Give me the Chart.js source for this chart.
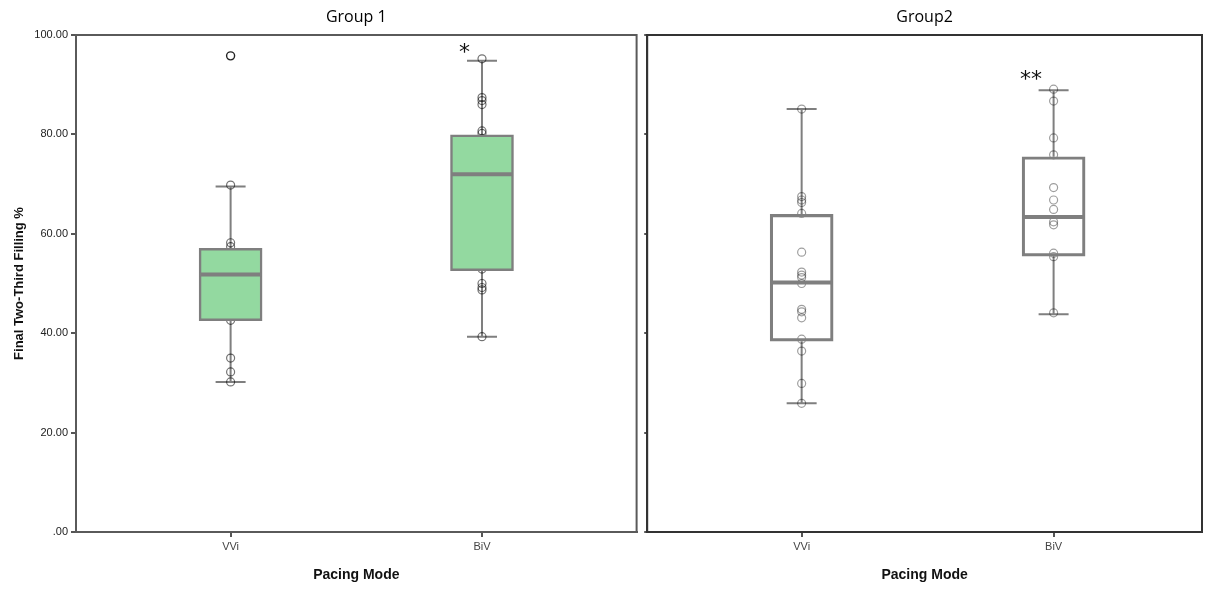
<!DOCTYPE html>
<html>
<head>
<meta charset="utf-8">
<script src="https://cdn.jsdelivr.net/npm/chart.js@4"></script>
<style>
  html,body{margin:0;padding:0;background:#fff;}
  #wrap{position:relative;width:1208px;height:590px;}
  canvas{position:absolute;top:0;}
</style>
</head>
<body>
<div id="wrap">
  <canvas id="c1" width="642" height="590" style="left:0;width:642px;height:590px"></canvas>
  <canvas id="c2" width="566" height="590" style="left:642px;width:566px;height:590px"></canvas>
</div>
<script>
// Categories and tick labels
const categories = ["VVi", "BiV"];
const yTicks = [0, 20, 40, 60, 80, 100];

const g1VVi = [69.8, 58.2, 57.4, 56.3, 52.7, 52.1, 51.7, 48.1, 42.6, 35.0, 32.2, 30.2];
const g1VViOutlier = [95.8];
const g1BiV = [95.2, 87.4, 86.8, 86.0, 80.7, 80.2, 79.2, 72.4, 68.3, 54.7, 52.9, 50.0, 49.2, 48.7, 39.3];
// Group 1 box statistics (VVi, BiV)
const g1Min = [30.2, 39.3];
const g1Q1  = [42.5, 52.6];
const g1Med = [51.8, 72.0];
const g1Q3  = [57.1, 79.9];
const g1Max = [69.5, 94.8];

// Group 2: individual observations
const g2VVi = [85.1, 67.5, 66.8, 66.3, 64.1, 56.3, 52.3, 51.7, 51.2, 50.0, 44.8, 44.3, 43.1, 38.8, 36.4, 29.9, 25.9];
const g2BiV = [89.1, 86.7, 79.3, 75.9, 69.3, 66.8, 64.9, 62.4, 61.8, 56.1, 55.4, 44.1];
// Group 2 box statistics
const g2Min = [25.9, 43.8];
const g2Q1  = [38.4, 55.5];
const g2Med = [50.2, 63.4];
const g2Q3  = [63.9, 75.5];
const g2Max = [85.1, 88.9];

// significance marks (x in category units, y in %)
const g1Stars = [{x: 0.93, y: 96.3, text: "*"}];
const g2Stars = [{x: 0.91, y: 90.8, text: "**"}];

const GREY = "#7f7f7f";

// ---------- box plot helper plugin: whiskers, medians, frame, stars ----------
const boxPlugin = {
  id: "boxplot",
  beforeDatasetsDraw(chart, args, o){
    const {x, y} = chart.scales, ctx = chart.ctx;
    ctx.save();
    ctx.strokeStyle = GREY; ctx.lineWidth = 2;
    o.min.forEach((mn, i) => {
      const px = x.getPixelForValue(i);
      ctx.beginPath();
      ctx.moveTo(px, y.getPixelForValue(o.max[i])); ctx.lineTo(px, y.getPixelForValue(o.q3[i]));
      ctx.moveTo(px, y.getPixelForValue(o.q1[i]));  ctx.lineTo(px, y.getPixelForValue(mn));
      // caps
      ctx.moveTo(px - 15, y.getPixelForValue(o.max[i])); ctx.lineTo(px + 15, y.getPixelForValue(o.max[i]));
      ctx.moveTo(px - 15, y.getPixelForValue(mn));       ctx.lineTo(px + 15, y.getPixelForValue(mn));
      ctx.stroke();
    });
    ctx.restore();
  },
  afterDatasetDraw(chart, args, o){
    if(args.index !== 0) return;
    const {x, y} = chart.scales, ctx = chart.ctx;
    ctx.save();
    ctx.strokeStyle = GREY; ctx.lineWidth = 4;
    o.med.forEach((m, i) => {
      const px = x.getPixelForValue(i), py = y.getPixelForValue(m);
      ctx.beginPath(); ctx.moveTo(px - 31, py); ctx.lineTo(px + 31, py); ctx.stroke();
    });
    ctx.restore();
  },
  afterDraw(chart, args, o){
    const {x, y} = chart.scales, ctx = chart.ctx, a = chart.chartArea;
    ctx.save();
    ctx.strokeStyle = o.frame; ctx.lineWidth = 2;
    ctx.strokeRect(a.left, a.top, a.right - a.left, a.bottom - a.top);
    ctx.fillStyle = "#111"; ctx.font = "22px 'DejaVu Sans'";
    ctx.textAlign = "center"; ctx.textBaseline = "middle";
    o.stars.forEach(s => ctx.fillText(s.text, x.getPixelForValue(s.x), y.getPixelForValue(s.y)));
    ctx.restore();
  }
};

function makePanel(id, cfg){
  const xScale = {
    type: "linear", min: cfg.xMin, max: cfg.xMax, offset: false,
    afterBuildTicks: s => { s.ticks = categories.map((c, i) => ({value: i})); },
    ticks: {callback: (v, i) => categories[i], color: "#444", padding: 3,
            font: {family: "'Liberation Sans', Arial", size: 11}, autoSkip: false, maxRotation: 0},
    grid: {offset: false, drawOnChartArea: false, drawTicks: true, tickLength: 5, color: "#555", lineWidth: 2},
    border: {display: true, color: cfg.frame, width: 2},
    title: {display: true, text: "Pacing Mode", color: "#111", padding: {top: 4, bottom: 6},
            font: {family: "'Liberation Sans', Arial", size: 14, weight: "bold"}},
    afterFit: s => { s.height = 58; }
  };
  const yScale = {
    min: 0, max: 100,
    afterBuildTicks: s => { s.ticks = yTicks.map(v => ({value: v})); },
    ticks: {display: cfg.yLabels, color: "#222", padding: 3,
            font: {family: "'Liberation Sans', Arial", size: 11},
            callback: v => v === 0 ? ".00" : v.toFixed(2)},
    grid: {drawOnChartArea: false, drawTicks: true, tickLength: cfg.yLabels ? 5 : 3, color: "#555", lineWidth: 2},
    border: {display: true, color: cfg.frame, width: 2},
    title: {display: cfg.yLabels, text: "Final Two-Third Filling %", color: "#111", padding: {top: 12, bottom: 0},
            font: {family: "'Liberation Sans', Arial", size: 13, weight: "bold"}},
    afterFit: s => { s.width = cfg.yWidth; }
  };
  const pts = cfg.points.map(p => ({
    type: "scatter",
    data: p.values.map(v => ({x: p.cat, y: v})),
    pointStyle: "circle", pointRadius: 4, pointBorderWidth: p.bw || 1.2,
    pointBackgroundColor: "rgba(0,0,0,0)", pointBorderColor: p.color
  }));
  return new Chart(document.getElementById(id), {
    type: "bar",
    data: {
      datasets: [{
        type: "bar",
        data: categories.map((c, i) => ({x: i, y: [cfg.q1[i], cfg.q3[i]]})),
        backgroundColor: cfg.fill, borderColor: GREY, borderWidth: 2.5,
        borderSkipped: false, barThickness: 63
      }, ...pts]
    },
    options: {
      responsive: false, animation: false, events: [],
      layout: {padding: {left: 0, right: cfg.padRight, top: 0, bottom: 0}},
      scales: {x: xScale, y: yScale},
      plugins: {
        legend: {display: false}, tooltip: {enabled: false},
        title: {display: true, text: cfg.title, fullSize: false, color: "#000",
                padding: {top: 8, bottom: 7.8}, font: {family: "'Open Sans'", size: 16, weight: "normal"}},
        boxplot: {min: cfg.min, max: cfg.max, q1: cfg.q1, q3: cfg.q3, med: cfg.med,
                  frame: cfg.frame, stars: cfg.stars}
      }
    },
    plugins: [boxPlugin]
  });
}

makePanel("c1", {
  title: "Group 1", xMin: -0.615, xMax: 1.615, yWidth: 76, padRight: 4, yLabels: true,
  fill: "#93d9a0", frame: "#5a5a5a",
  min: g1Min, q1: g1Q1, med: g1Med, q3: g1Q3, max: g1Max, stars: g1Stars,
  points: [
    {cat: 0, values: g1VVi, color: "rgba(0,0,0,0.55)"},
    {cat: 0, values: g1VViOutlier, color: "#222", bw: 1.4},
    {cat: 1, values: g1BiV, color: "rgba(0,0,0,0.55)"}
  ]
});

makePanel("c2", {
  title: "Group2", xMin: -0.613, xMax: 1.589, yWidth: 3, padRight: 6, yLabels: false,
  fill: "rgba(255,255,255,0)", frame: "#333",
  min: g2Min, q1: g2Q1, med: g2Med, q3: g2Q3, max: g2Max, stars: g2Stars,
  points: [
    {cat: 0, values: g2VVi, color: "rgba(0,0,0,0.38)"},
    {cat: 1, values: g2BiV, color: "rgba(0,0,0,0.38)"}
  ]
});
</script>
</body>
</html>
